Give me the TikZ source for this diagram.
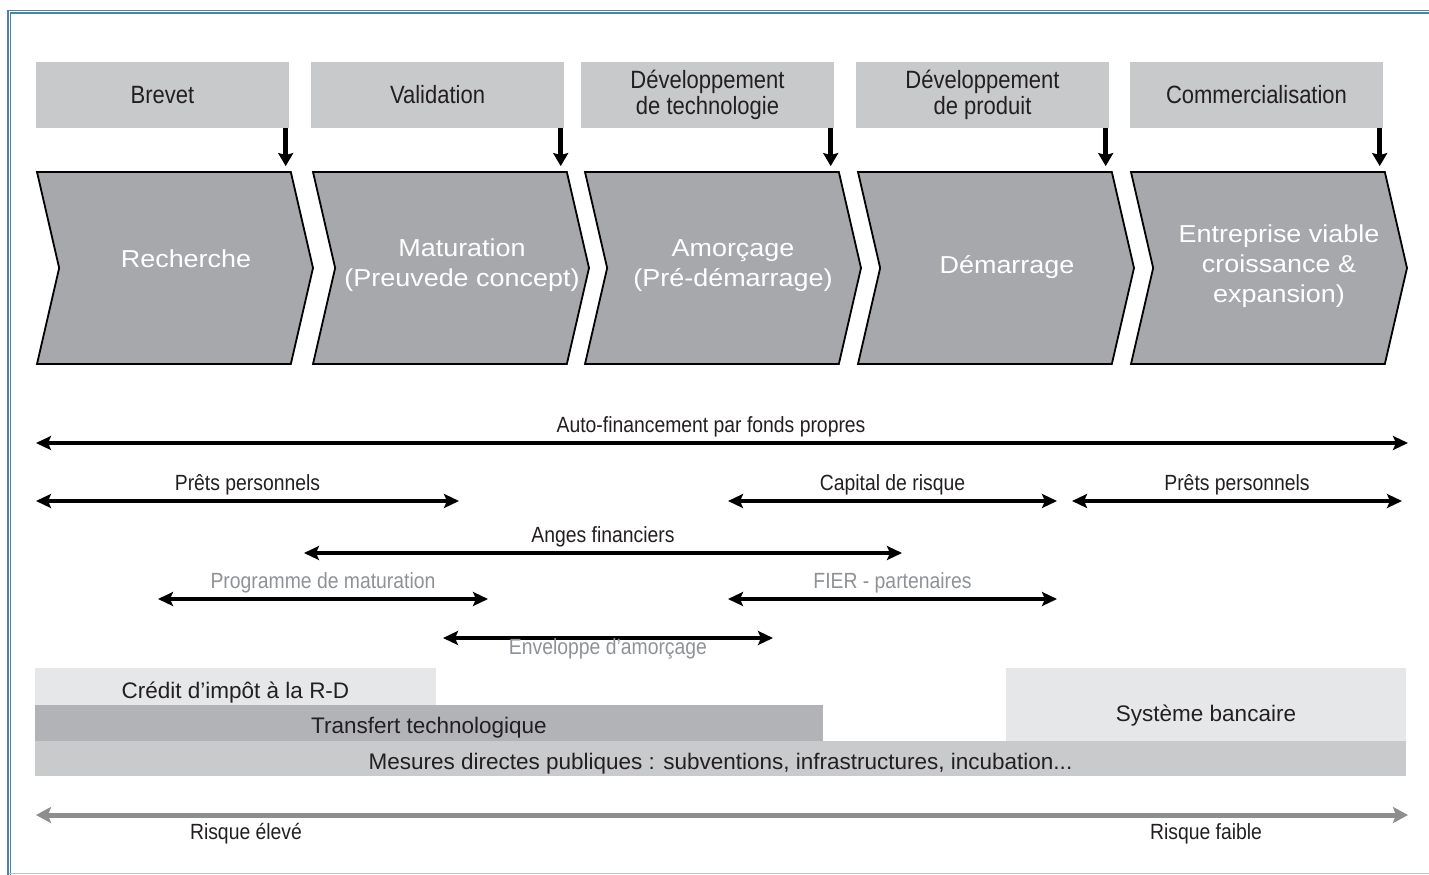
\documentclass[tikz,border=0pt]{standalone}
\usepackage{fontspec}
\setmainfont{Liberation Sans}
\newfontfamily\narrowsf{Liberation Sans}[FakeStretch=0.88]
\newfontfamily\widesf{Liberation Sans}[FakeStretch=1.1]
\usetikzlibrary{shapes.symbols,arrows.meta}
\definecolor{topgrey}{HTML}{C8C9CB}
\definecolor{chevgrey}{HTML}{A7A8AB}
\definecolor{lightbar}{HTML}{E6E7E8}
\definecolor{darkbar}{HTML}{B1B3B6}
\definecolor{midbar}{HTML}{C9CACC}
\definecolor{labelgrey}{HTML}{8E9297}
\definecolor{riskgrey}{HTML}{8D8E90}
\definecolor{textdark}{HTML}{231F20}
\definecolor{frameblue}{HTML}{4C82A6}
\definecolor{framelight}{HTML}{B4C6D4}
\begin{document}
\begin{tikzpicture}[x = 1pt, y = -1pt,
    phase/.style   = {fill = topgrey, minimum width = 253pt, minimum height = 66pt, inner sep = 0pt,
                      align = center, text = textdark, font = \narrowsf\fontsize{25}{26}\selectfont},
    chevron/.style = {shape = signal, signal from = west, signal to = east, signal pointer angle = 154,
                      draw = black, line width = 1.8pt, fill = chevgrey,
                      minimum width = 276pt, minimum height = 192pt, inner sep = 0pt},
    stage/.style   = {text = white, align = center, inner sep = 0pt, font = \widesf\fontsize{24.5}{30}\selectfont},
    drop/.style    = {line width = 4.5pt, -{Stealth[length = 13pt, width = 15pt, inset = 2pt]}, shorten > = 5pt},
    fund/.style    = {line width = 4pt, {Stealth[length = 15pt, width = 14pt, inset = 3pt]}-{Stealth[length = 15pt, width = 14pt, inset = 3pt]}},
    flabel/.style  = {inner sep = 0pt, text height = 16pt, text depth = 5pt, text = textdark,
                      font = \narrowsf\fontsize{22}{24}\selectfont},
    glabel/.style  = {flabel, text = labelgrey},
    bar/.style     = {inner sep = 0pt, text height = 20pt, text depth = 5pt, text = textdark,
                      font = \fontsize{22.5}{24}\selectfont},
    risk/.style    = {line width = 5pt, draw = riskgrey, {Stealth[length = 15pt, width = 16pt, inset = 3pt]}-{Stealth[length = 15pt, width = 16pt, inset = 3pt]}}]

  \useasboundingbox (0, 0) rectangle (1429, 875);

  % frame
  \draw[frameblue, line width = 1.2pt, double = white, double distance = 1pt] (9, 875) -- (9, 12) -- (1429, 12);
  \draw[framelight, line width = 1pt] (9, 873) -- (1429, 873);

  % phases
  \node[phase] at ( 162.5, 95) (b1) {Brevet};
  \node[phase] at ( 437.5, 95) (b2) {Validation};
  \node[phase] at ( 707.5, 95) (b3) {Développement\\de technologie};
  \node[phase] at ( 982.5, 95) (b4) {Développement\\de produit};
  \node[phase] at (1256.5, 95) (b5) {Commercialisation};

  % stages
  \node[chevron] at ( 175, 268) (c1) {};
  \node[chevron] at ( 451, 268) (c2) {};
  \node[chevron] at ( 723, 268) (c3) {};
  \node[chevron] at ( 996, 268) (c4) {};
  \node[chevron] at (1269, 268) (c5) {};

  \node[stage] at ( 186, 259) (s1) {Recherche};
  \node[stage] at ( 462, 265) (s2) {Maturation\\(Preuvede concept)};
  \node[stage] at ( 733, 266) (s3) {Amorçage\\(Pré-démarrage)};
  \node[stage] at (1007, 267) (s4) {Démarrage};
  \node[stage] at (1279, 266) (s5) {Entreprise viable\\croissance \&\\expansion)};

  \draw[drop] ([xshift = -3.5pt]b1.south east) -- ([xshift = -3.5pt]b1.south east |- c1.north);
  \draw[drop] ([xshift = -3.5pt]b2.south east) -- ([xshift = -3.5pt]b2.south east |- c2.north);
  \draw[drop] ([xshift = -3.5pt]b3.south east) -- ([xshift = -3.5pt]b3.south east |- c3.north);
  \draw[drop] ([xshift = -3.5pt]b4.south east) -- ([xshift = -3.5pt]b4.south east |- c4.north);
  \draw[drop] ([xshift = -3.5pt]b5.south east) -- ([xshift = -3.5pt]b5.south east |- c5.north);

  % financing
  \coordinate (af1) at (  36, 443);  \coordinate (af2) at (1408, 443);
  \coordinate (pp1) at (  36, 501);  \coordinate (pp2) at ( 459, 501);
  \coordinate (cr1) at ( 728, 501);  \coordinate (cr2) at (1057, 501);
  \coordinate (pq1) at (1072, 501);  \coordinate (pq2) at (1402, 501);
  \coordinate (ag1) at ( 304, 553);  \coordinate (ag2) at ( 902, 553);
  \coordinate (pm1) at ( 158, 599);  \coordinate (pm2) at ( 488, 599);
  \coordinate (fi1) at ( 728, 599);  \coordinate (fi2) at (1057, 599);
  \coordinate (ea1) at ( 443, 638);  \coordinate (ea2) at ( 773, 638);

  \draw[fund] (af1) -- node[flabel, above = 3.5pt, pos = 0.492] (af) {Auto-financement par fonds propres} (af2);
  \draw[fund] (pp1) -- node[flabel, above = 4pt] (pp) {Prêts personnels} (pp2);
  \draw[fund] (cr1) -- node[flabel, above = 4pt] (cr) {Capital de risque} (cr2);
  \draw[fund] (pq1) -- node[flabel, above = 4pt] (pq) {Prêts personnels} (pq2);
  \draw[fund] (ag1) -- node[flabel, above = 4pt] (ag) {Anges financiers} (ag2);
  \draw[fund] (pm1) -- node[glabel, above = 4pt] (pm) {Programme de maturation} (pm2);
  \draw[fund] (fi1) -- node[glabel, above = 4pt] (fi) {FIER - partenaires} (fi2);
  \draw[fund] (ea1) -- node[glabel, below = -2pt] (ea) {Enveloppe d’amorçage} (ea2);

  % support measures
  \node[bar, fill = lightbar, minimum width = 401pt,  minimum height = 45pt] at ( 235.5, 690.5) (rd)  {Crédit d’impôt à la R-D};
  \node[bar, fill = lightbar, minimum width = 400pt,  minimum height = 91pt] at (1206,   713.5) (sb)  {Système bancaire};
  \node[bar, fill = darkbar,  minimum width = 788pt,  minimum height = 41pt] at ( 429,   725.5) (tt)  {Transfert technologique};
  \node[bar, fill = midbar,   minimum width = 1371pt, minimum height = 35pt, text height = 26pt] at ( 720.5, 758.5) (mdp)
       {Mesures directes publiques : subventions, infrastructures, incubation...};

  % risk
  \coordinate (rk1) at (36, 815);  \coordinate (rk2) at (1408, 815);
  \draw[risk] (rk1) -- (rk2);
  \node[flabel] at ( 246, 834) (re) {Risque élevé};
  \node[flabel] at (1206, 834) (rf) {Risque faible};
\end{tikzpicture}
\end{document}
